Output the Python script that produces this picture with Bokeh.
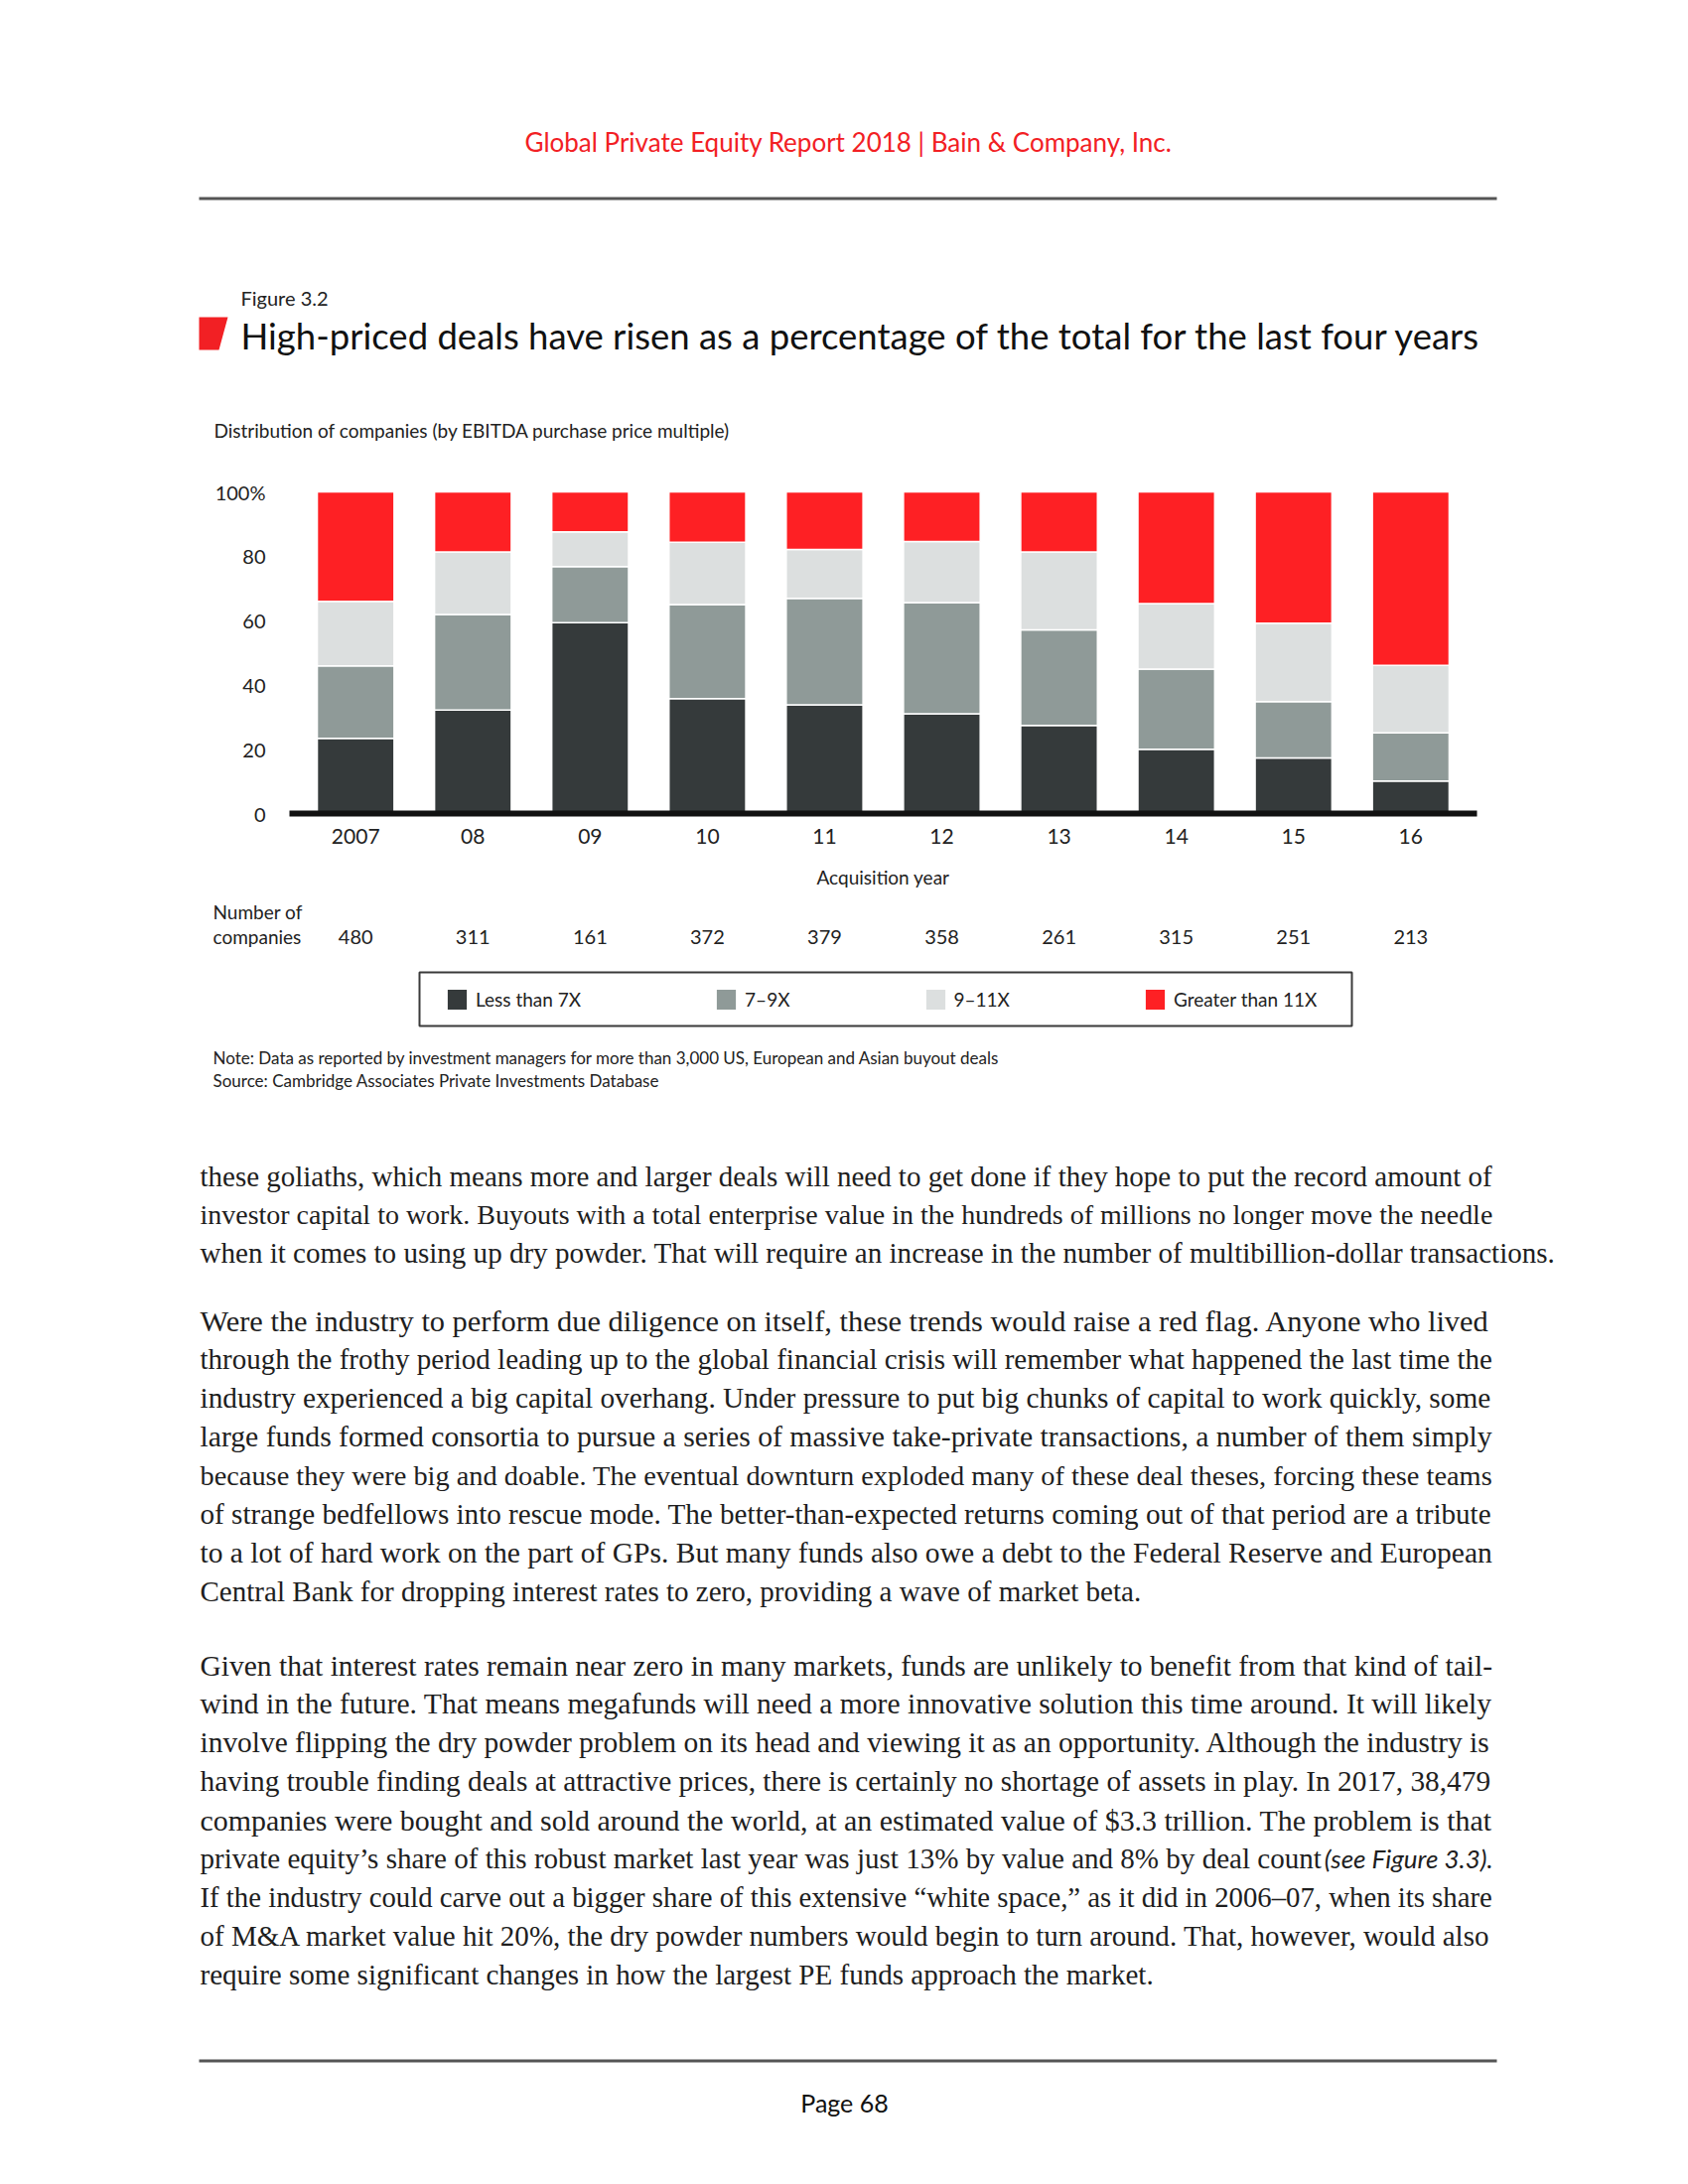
from bokeh.plotting import figure
from bokeh.layouts import column
from bokeh.models import ColumnDataSource, FactorRange, Range1d, FixedTicker
from bokeh.core.properties import value
from bokeh.embed import file_html
from bokeh.resources import INLINE

# ---------------- data ----------------
years = ["2007", "08", "09", "10", "11", "12", "13", "14", "15", "16"]
less_than_7x = [23.4, 32.2, 59.3, 35.7, 33.8, 31.0, 27.4, 20.0, 17.3, 10.1]
x7_to_9 = [22.5, 29.7, 17.5, 29.3, 33.1, 34.6, 29.7, 24.9, 17.5, 15.0]
x9_to_11 = [20.1, 19.4, 10.8, 19.3, 15.2, 19.0, 24.2, 20.4, 24.4, 21.0]
greater_than_11x = [34.0, 18.7, 12.4, 15.7, 17.9, 15.4, 18.7, 34.7, 40.8, 53.9]
companies = [480, 311, 161, 372, 379, 358, 261, 315, 251, 213]
series_labels = ["Less than 7X", "7–9X", "9–11X", "Greater than 11X"]
y_ticks = [0, 20, 40, 60, 80, 100]

header_text = "Global Private Equity Report 2018 | Bain & Company, Inc."
figure_no = "Figure 3.2"
title_text = "High-priced deals have risen as a percentage of the total for the last four years"
subtitle_text = "Distribution of companies (by EBITDA purchase price multiple)"
note_lines = ["Note: Data as reported by investment managers for more than 3,000 US, European and Asian buyout deals",
              "Source: Cambridge Associates Private Investments Database"]
paragraphs = [
    ["these goliaths, which means more and larger deals will need to get done if they hope to put the record amount of",
     "investor capital to work. Buyouts with a total enterprise value in the hundreds of millions no longer move the needle",
     "when it comes to using up dry powder. That will require an increase in the number of multibillion-dollar transactions."],
    ["Were the industry to perform due diligence on itself, these trends would raise a red flag. Anyone who lived",
     "through the frothy period leading up to the global financial crisis will remember what happened the last time the",
     "industry experienced a big capital overhang. Under pressure to put big chunks of capital to work quickly, some",
     "large funds formed consortia to pursue a series of massive take-private transactions, a number of them simply",
     "because they were big and doable. The eventual downturn exploded many of these deal theses, forcing these teams",
     "of strange bedfellows into rescue mode. The better-than-expected returns coming out of that period are a tribute",
     "to a lot of hard work on the part of GPs. But many funds also owe a debt to the Federal Reserve and European",
     "Central Bank for dropping interest rates to zero, providing a wave of market beta."],
    ["Given that interest rates remain near zero in many markets, funds are unlikely to benefit from that kind of tail-",
     "wind in the future. That means megafunds will need a more innovative solution this time around. It will likely",
     "involve flipping the dry powder problem on its head and viewing it as an opportunity. Although the industry is",
     "having trouble finding deals at attractive prices, there is certainly no shortage of assets in play. In 2017, 38,479",
     "companies were bought and sold around the world, at an estimated value of $3.3 trillion. The problem is that",
     "private equity’s share of this robust market last year was just 13% by value and 8% by deal count",
     "If the industry could carve out a bigger share of this extensive “white space,” as it did in 2006–07, when its share",
     "of M&A market value hit 20%, the dry powder numbers would begin to turn around. That, however, would also",
     "require some significant changes in how the largest PE funds approach the market."],
]
italic_ref = "(see Figure 3.3)."
page_label = "Page 68"

# ---------------- styles / geometry (page pixels) ----------------
SANS = "Lato"
SERIF = "Liberation Serif"
RED = "#f22024"
colors = ["#353a3b", "#8f9a98", "#dcdfdf", "#fe2024"]
LABEL_C = "#222222"
W, H = 1684, 2184
FL, FR, FT, FB = 291, 1487, 495, 819          # bar area (page pixels)
BAR_PAD = 0.065                                 # category padding beside the bars
TOP_END, CHART_END = 470, 903                   # vertical split between figures

# every figure shares one frame, symmetric about the bar area's centre,
# so the year factors fall at the same place in all of them
LEFT = FL + FR - W
cat_px = (FR - FL) / (len(years) + 2 * BAR_PAD)
span = (W - LEFT) / cat_px
pad_each = (span - len(years)) / 2


def lx(px):  # page pixel -> synthetic categorical coordinate
    return (px - LEFT) / cat_px - pad_each


def year_range():
    return FactorRange(factors=years, range_padding=span / len(years) - 1,
                       range_padding_units="percent")


def text_fig(height, x_range, y_range):
    f = figure(width=W, height=height, output_backend="svg", toolbar_location=None,
               x_range=x_range, y_range=y_range,
               x_axis_location=None, y_axis_location=None,
               min_border_left=LEFT, min_border_right=0, min_border_top=0, min_border_bottom=0)
    f.outline_line_color = None
    f.grid.visible = False
    f.background_fill_color = "white"
    f.border_fill_color = "white"
    return f


def put(f, px, py, txt, size, color="#1e1e1e", font=SANS, align="left", style="normal", tx=lambda v: v):
    f.text(x=[tx(px)], y=[py], text=[txt], text_font=value(font), text_font_size=value(f"{size}px"),
           text_color=color, text_align=align, text_baseline="middle",
           text_font_style=style)


# ---------------- top: header and titles ----------------
top = text_fig(TOP_END, Range1d(LEFT, W), Range1d(TOP_END, 0))
put(top, 854, 142, header_text, 26, RED, align="center")
top.segment(x0=[200], y0=[199.5], x1=[1507], y1=[199.5], line_color="#555555", line_width=3)
put(top, 242, 299, figure_no, 20, LABEL_C)
top.patch(x=[200, 229, 220, 200], y=[319, 319, 352, 352], fill_color=RED, line_color=None)
put(top, 242, 337, title_text, 36.5, "#111111")
put(top, 215, 433, subtitle_text, 19, LABEL_C)

# ---------------- chart ----------------
source = ColumnDataSource(dict(year=years, lt7=less_than_7x, s79=x7_to_9,
                               s911=x9_to_11, gt11=greater_than_11x,
                               n=[str(c) for c in companies]))

px_per_pct = (FB - FT) / 100.0
chart = figure(x_range=year_range(),
               y_range=Range1d(-(CHART_END - FB) / px_per_pct, 100 + (FT - TOP_END) / px_per_pct),
               width=W, height=CHART_END - TOP_END,
               output_backend="svg", toolbar_location=None,
               min_border_left=LEFT, min_border_right=0, min_border_top=0, min_border_bottom=0)
chart.outline_line_color = None
chart.background_fill_color = "white"
chart.border_fill_color = "white"
chart.xgrid.visible = False
chart.ygrid.visible = False

chart.vbar_stack(["lt7", "s79", "s911", "gt11"], x="year", width=0.655, source=source,
                 color=colors, line_color="white", line_width=1.5)

xa = chart.xaxis[0]
xa.fixed_location = 0
xa.bounds = (lx(FL), lx(FR))
xa.axis_line_width = 6
xa.axis_line_color = "#111111"
xa.major_tick_line_color = None
xa.major_tick_out = 0
xa.major_tick_in = 0
xa.major_label_standoff = 15
xa.major_label_text_font = SANS
xa.major_label_text_font_size = "21px"
xa.major_label_text_color = LABEL_C
xa.axis_label = "Acquisition year"
xa.axis_label_standoff = 19
xa.axis_label_text_font = SANS
xa.axis_label_text_font_size = "19px"
xa.axis_label_text_font_style = "normal"
xa.axis_label_text_color = LABEL_C

ya = chart.yaxis[0]
ya.fixed_location = lx(FL)
ya.bounds = (0, 100)
ya.ticker = FixedTicker(ticks=y_ticks)
ya.major_label_overrides = {100: "100%"}
ya.axis_line_color = None
ya.major_tick_line_color = None
ya.minor_tick_line_color = None
ya.major_tick_out = 0
ya.major_tick_in = 0
ya.major_label_standoff = 24
ya.major_label_text_font = SANS
ya.major_label_text_font_size = "20px"
ya.major_label_text_color = LABEL_C

# ---------------- lower part: counts, legend, notes, body text ----------------
low = text_fig(H - CHART_END, year_range(), Range1d(H, CHART_END))

low.text(x="year", y=943, text="n", source=source,
         text_font=value(SANS), text_font_size=value("20px"), text_color=LABEL_C,
         text_align="center", text_baseline="middle")
put(low, 214, 918, "Number of", 19, LABEL_C, tx=lx)
put(low, 214, 943, "companies", 19, LABEL_C, tx=lx)

# legend: proxies carry the series colours (their one point lies outside the view)
for lab, c in zip(series_labels, colors):
    low.rect(x=[years[0]], y=[H + 500], width=0.1, height=1, fill_color=c, line_color=None,
             legend_label=lab)
lg = low.legend[0]
lg.orientation = "horizontal"
lg.location = (448 - LEFT, H - 1019)
lg.padding = 0
lg.margin = 0
lg.spacing = 134
lg.label_standoff = 7
lg.glyph_width = 24
lg.glyph_height = 25
lg.border_line_color = None
lg.background_fill_alpha = 0
lg.label_text_font = SANS
lg.label_text_font_size = "19px"
lg.label_text_color = LABEL_C
low.quad(left=[lx(422)], right=[lx(1361)], top=[979], bottom=[1033], fill_alpha=0,
         line_color="#3a3a3a", line_width=2)

put(low, 214, 1065, note_lines[0], 17, LABEL_C, tx=lx)
put(low, 214, 1088, note_lines[1], 17, LABEL_C, tx=lx)

# body text: Times metrics (Liberation Serif) used to fit each full line to the
# 1302px text column, as the justified original does
TW = dict(zip("abcdefghijklmnopqrstuvwxyz",
              [444, 500, 444, 500, 444, 333, 500, 500, 278, 278, 500, 278, 778, 500, 500, 500,
               500, 333, 389, 278, 500, 500, 722, 500, 500, 444]))
TW.update(dict(zip("ABCDEFGHIJKLMNOPQRSTUVWXYZ",
                   [722, 667, 667, 722, 611, 556, 722, 722, 333, 389, 722, 611, 889, 722, 722, 556,
                    722, 667, 556, 611, 722, 722, 944, 722, 722, 611])))
TW.update({" ": 250, ",": 250, ".": 250, "-": 333, "’": 333, "“": 444, "”": 444, "$": 500,
           "%": 833, "&": 778, "–": 500, "(": 333, ")": 333})


def em_width(s):
    return sum(TW.get(ch, 500) for ch in s) / 1000.0


COL_W = 1302
full_lines = [ln for para in paragraphs for ln in para[:-1]]
base_size = 0.985 * sum(COL_W / em_width(ln) for ln in full_lines) / len(full_lines)

para_start = [1184, 1330, 1677]
LINE = 38.9
for para, y0 in zip(paragraphs, para_start):
    for i, ln in enumerate(para):
        if i == len(para) - 1 or ln.endswith("deal count"):
            size = base_size
        else:
            size = min(max(COL_W / em_width(ln), 0.9 * base_size), 1.05 * base_size)
        put(low, 201, y0 + i * LINE, ln, round(size, 2), "#1e1e1e", font=SERIF, tx=lx)
put(low, 1503, para_start[2] + 5 * LINE, italic_ref, 26, "#1e1e1e", align="right",
    style="italic", tx=lx)

low.segment(x0=[lx(200)], y0=[2075.5], x1=[lx(1507)], y1=[2075.5], line_color="#555555", line_width=3)
put(low, 850, 2117, page_label, 25, "#111111", align="center", tx=lx)

page = column(top, chart, low, spacing=0)
open("out.html", "w").write(file_html(page, INLINE))
